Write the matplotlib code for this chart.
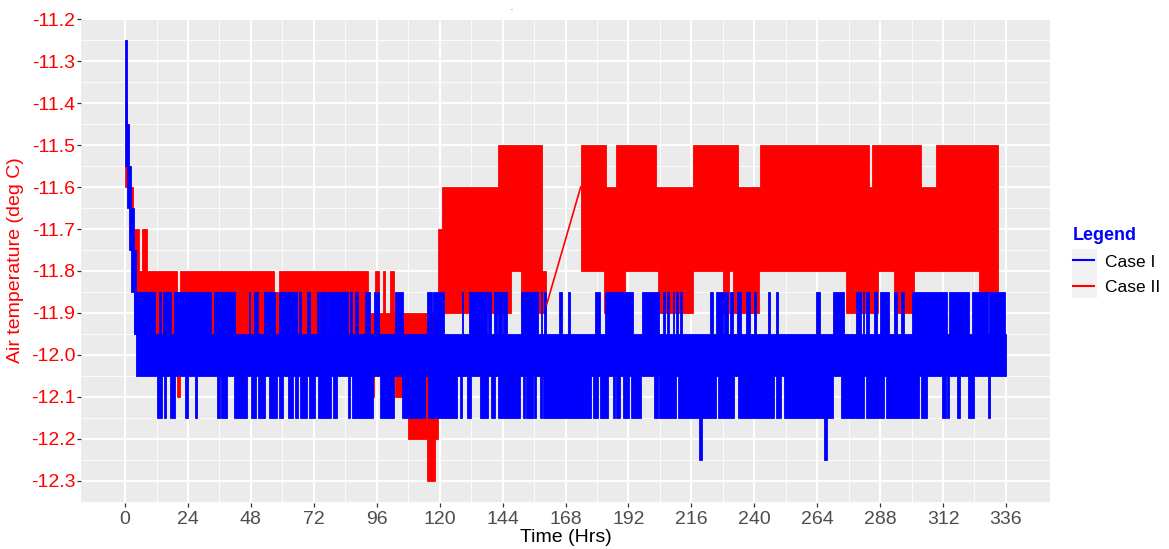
'''
Air temperature time series, Case I vs Case II (ggplot-style recreation)
'''

import matplotlib
matplotlib.use("Agg")
import matplotlib.pyplot as plt
import numpy as np
from matplotlib.lines import Line2D
from matplotlib.patches import Rectangle

plt.rcParams['font.family'] = ['Liberation Sans', 'DejaVu Sans']

# ---- data (hours, deg C) ----
# Case I: dense oscillation drawn as envelope blocks
c1_early = [  # (t0, t1, low, high) during the initial drop
    (0.0, 0.7, -11.55, -11.25),
    (0.7, 1.4, -11.65, -11.45),
    (1.4, 2.4, -11.75, -11.55),
    (2.4, 3.3, -11.85, -11.65),
    (3.3, 4.2, -11.95, -11.75),
]
c1_band = (4.2, 336.0)
c1_band_low, c1_band_high = -12.05, -11.95
c1_up_level = -11.85
c1_down_level = -12.15
c1_deep_level = -12.25
c1_up = [
    (3.3, 11.6), (12.9, 13.6), (14.4, 17.7), (18.8, 32.9), (34.0, 41.8),
    (47.1, 47.8), (49.1, 50.6), (53.1, 57.3), (58.8, 65.6), (66.5, 67.2),
    (69.4, 70.6), (73.1, 74.0), (74.4, 77.0), (77.6, 85.2), (85.8, 86.5),
    (87.7, 89.0), (91.6, 93.4), (95.1, 96.9), (103.0, 106.2), (115.0, 116.9),
    (117.6, 121.7), (128.4, 128.9), (131.1, 137.9), (138.5, 139.5), (140.8, 141.7),
    (142.3, 143.6), (144.2, 145.8), (150.9, 157.5), (158.5, 159.1), (159.8, 160.6),
    (165.4, 166.6), (168.9, 169.7), (179.1, 181.0), (183.1, 184.2), (184.4, 193.7),
    (197.2, 203.8), (205.1, 205.8), (206.8, 207.3), (208.9, 209.5), (210.2, 210.8),
    (211.5, 212.4), (223.3, 224.1), (225.4, 228.0), (228.6, 229.8), (230.9, 231.7),
    (233.4, 234.9), (236.8, 238.5), (240.0, 240.6), (245.3, 246.1), (248.3, 249.2),
    (263.5, 265.2), (269.9, 274.3), (278.7, 280.6), (281.3, 281.8), (282.5, 283.8),
    (285.7, 286.9), (287.9, 291.4), (293.3, 294.5), (295.8, 297.0), (300.3, 313.4),
    (314.2, 321.8), (323.1, 329.2), (329.7, 335.8),
]
c1_down = [
    (12.3, 14.1), (14.8, 15.7), (17.3, 19.0), (22.7, 24.0), (26.8, 27.6),
    (35.0, 36.3), (36.7, 38.9), (41.4, 46.5), (48.2, 50.0), (50.6, 53.5),
    (54.8, 57.9), (58.6, 60.2), (62.3, 63.9), (64.9, 66.1), (66.8, 69.4),
    (70.3, 72.5), (73.5, 78.6), (79.5, 80.8), (85.2, 85.8), (86.5, 94.7),
    (97.1, 102.7), (105.5, 114.3), (115.6, 120.4), (120.7, 126.8), (127.7, 128.6),
    (130.6, 131.9), (135.3, 138.5), (139.5, 141.3), (142.1, 150.5), (151.8, 152.7),
    (153.1, 155.6), (156.0, 156.9), (158.2, 159.1), (159.5, 177.8), (178.4, 180.4),
    (181.3, 184.2), (186.1, 186.8), (187.3, 188.6), (189.9, 192.4), (193.0, 196.9),
    (201.7, 203.2), (203.8, 210.2), (210.8, 225.4), (226.3, 232.4), (233.7, 247.6),
    (248.3, 250.1), (251.2, 269.9), (273.0, 281.8), (282.5, 289.5), (290.1, 302.8),
    (303.5, 306.0), (311.5, 313.0), (313.5, 314.2), (317.4, 318.3), (321.6, 323.7),
    (329.0, 329.8),
]
c1_deep = [(218.8, 219.9), (266.6, 267.8)]

# Case II: (t0, t1, low, high) envelope blocks
c2_blocks = [
    (0.0, 1.4, -11.60, -11.55), (0.2, 0.6, -11.60, -11.40), (1.4, 3.0, -11.65, -11.60),
    (3.0, 5.5, -11.80, -11.70), (6.3, 8.2, -11.80, -11.70),
    (4.2, 19.8, -11.95, -11.80), (19.8, 21.1, -12.10, -11.85), (21.1, 56.9, -11.95, -11.80),
    (56.9, 58.9, -11.95, -11.85), (58.9, 92.8, -11.95, -11.80),
    (92.8, 107.9, -12.00, -11.90), (93.6, 95.0, -12.10, -11.90), (95.2, 96.9, -11.95, -11.80),
    (98.3, 99.1, -11.95, -11.80), (101.1, 102.4, -11.95, -11.80), (103.0, 105.5, -12.10, -11.90),
    (107.9, 119.4, -12.20, -11.90), (115.0, 118.3, -12.30, -12.20),
    (119.4, 120.8, -11.90, -11.70), (120.8, 142.3, -11.90, -11.60),
    (142.3, 147.4, -11.90, -11.50), (147.4, 150.9, -11.80, -11.50),
    (150.9, 159.1, -11.90, -11.50), (159.1, 160.5, -11.90, -11.80),
    (173.8, 182.8, -11.80, -11.50), (182.8, 183.5, -11.90, -11.50),
    (183.5, 187.4, -11.90, -11.60), (187.4, 190.7, -11.90, -11.50),
    (190.7, 202.5, -11.80, -11.50), (202.5, 203.2, -11.80, -11.60),
    (203.2, 216.5, -11.90, -11.60), (216.5, 227.9, -11.80, -11.50),
    (227.9, 230.4, -11.90, -11.50), (230.4, 231.7, -11.80, -11.50),
    (231.7, 233.7, -11.90, -11.50), (233.7, 241.8, -11.90, -11.60),
    (241.8, 242.3, -11.80, -11.60), (242.3, 274.9, -11.80, -11.50),
    (274.9, 283.9, -11.90, -11.50), (283.9, 284.9, -11.90, -11.60),
    (284.9, 287.1, -11.90, -11.50), (287.1, 293.3, -11.80, -11.50),
    (293.3, 300.9, -11.90, -11.50), (300.9, 303.5, -11.80, -11.50),
    (303.5, 309.5, -11.80, -11.60), (309.5, 325.6, -11.80, -11.50),
    (325.6, 333.0, -11.85, -11.50),
]
# logging gap: straight connecting segment
c2_ramp_t = [160.8, 173.8]
c2_ramp_v = [-11.88, -11.60]

x_ticks = list(range(0, 337, 24))
y_ticks = [-11.2, -11.3, -11.4, -11.5, -11.6, -11.7, -11.8, -11.9, -12.0, -12.1, -12.2, -12.3]

W, H = 1169, 549


def draw_blocks(ax, blocks, color):
    t0 = np.array([b[0] for b in blocks])
    t1 = np.array([b[1] for b in blocks])
    lo = np.array([b[2] for b in blocks])
    hi = np.array([b[3] for b in blocks])
    ax.bar(t0, hi - lo, width=t1 - t0, bottom=lo, align='edge',
           color=color, edgecolor=color, linewidth=0.6)


fig = plt.figure(figsize=(W / 100, H / 100), dpi=100)
ax = fig.add_axes([81 / W, 46 / H, 969 / W, 485 / H])
ax.set_facecolor('#EBEBEB')

# Case II underneath
draw_blocks(ax, c2_blocks, 'red')
ax.plot(c2_ramp_t, c2_ramp_v, color='red', lw=1.2)

# Case I on top
c1_blocks = list(c1_early)
c1_blocks.append((c1_band[0], c1_band[1], c1_band_low, c1_band_high))
c1_blocks += [(a, b, c1_band_high, c1_up_level) for a, b in c1_up]
c1_blocks += [(a, b, c1_down_level, c1_band_low) for a, b in c1_down]
c1_blocks += [(a, b, c1_deep_level, c1_band_low) for a, b in c1_deep]
draw_blocks(ax, c1_blocks, 'blue')

ax.set_xlim(-16.8, 352.8)
ax.set_ylim(-12.3525, -11.1975)
ax.set_xticks(x_ticks)
ax.set_xticks(np.arange(12, 348, 24), minor=True)
ax.set_yticks(y_ticks)
ax.set_yticks(np.arange(-12.35, -11.2, 0.1), minor=True)
ax.set_yticklabels([f"{v:.1f}" for v in y_ticks])
ax.grid(which='major', color='white', lw=1.4)
ax.grid(which='minor', color='white', lw=0.6)
ax.set_axisbelow(True)
for s in ax.spines.values():
    s.set_visible(False)
ax.tick_params(axis='both', which='major', length=3, width=0.9, color='#333333', labelsize=14)
ax.tick_params(axis='both', which='minor', length=0)
ax.tick_params(axis='y', labelcolor='red', pad=1)
ax.tick_params(axis='x', labelcolor='#4D4D4D', pad=2.5)
ax.set_xlabel('Time (Hrs)', fontsize=14, color='black', labelpad=1)
ax.set_ylabel('Air temperature (deg C)', fontsize=14, color='red', labelpad=5)

fig.text(512 / W, 1 - 10 / H, '-', fontsize=4, color='#333333', ha='center', va='center')

# legend with grey key boxes
fig.patches.append(Rectangle((1072 / W, 1 - 298 / H), 25 / W, 49 / H,
                             transform=fig.transFigure, facecolor='#F2F2F2',
                             edgecolor='none', zorder=1))
handles = [Line2D([], [], color='blue', lw=1.5, label='Case I'),
           Line2D([], [], color='red', lw=1.5, label='Case II')]
leg = fig.legend(handles=handles, title='Legend', loc='upper left',
                 bbox_to_anchor=(1073 / W, 1 - 227 / H), frameon=False, fontsize=12.5,
                 title_fontproperties={'weight': 'bold', 'size': 13}, alignment='left',
                 borderpad=0, borderaxespad=0, handlelength=1.2, labelspacing=0.6,
                 handletextpad=0.65)
leg.get_title().set_color('blue')

fig.savefig('out.png', dpi=100)
